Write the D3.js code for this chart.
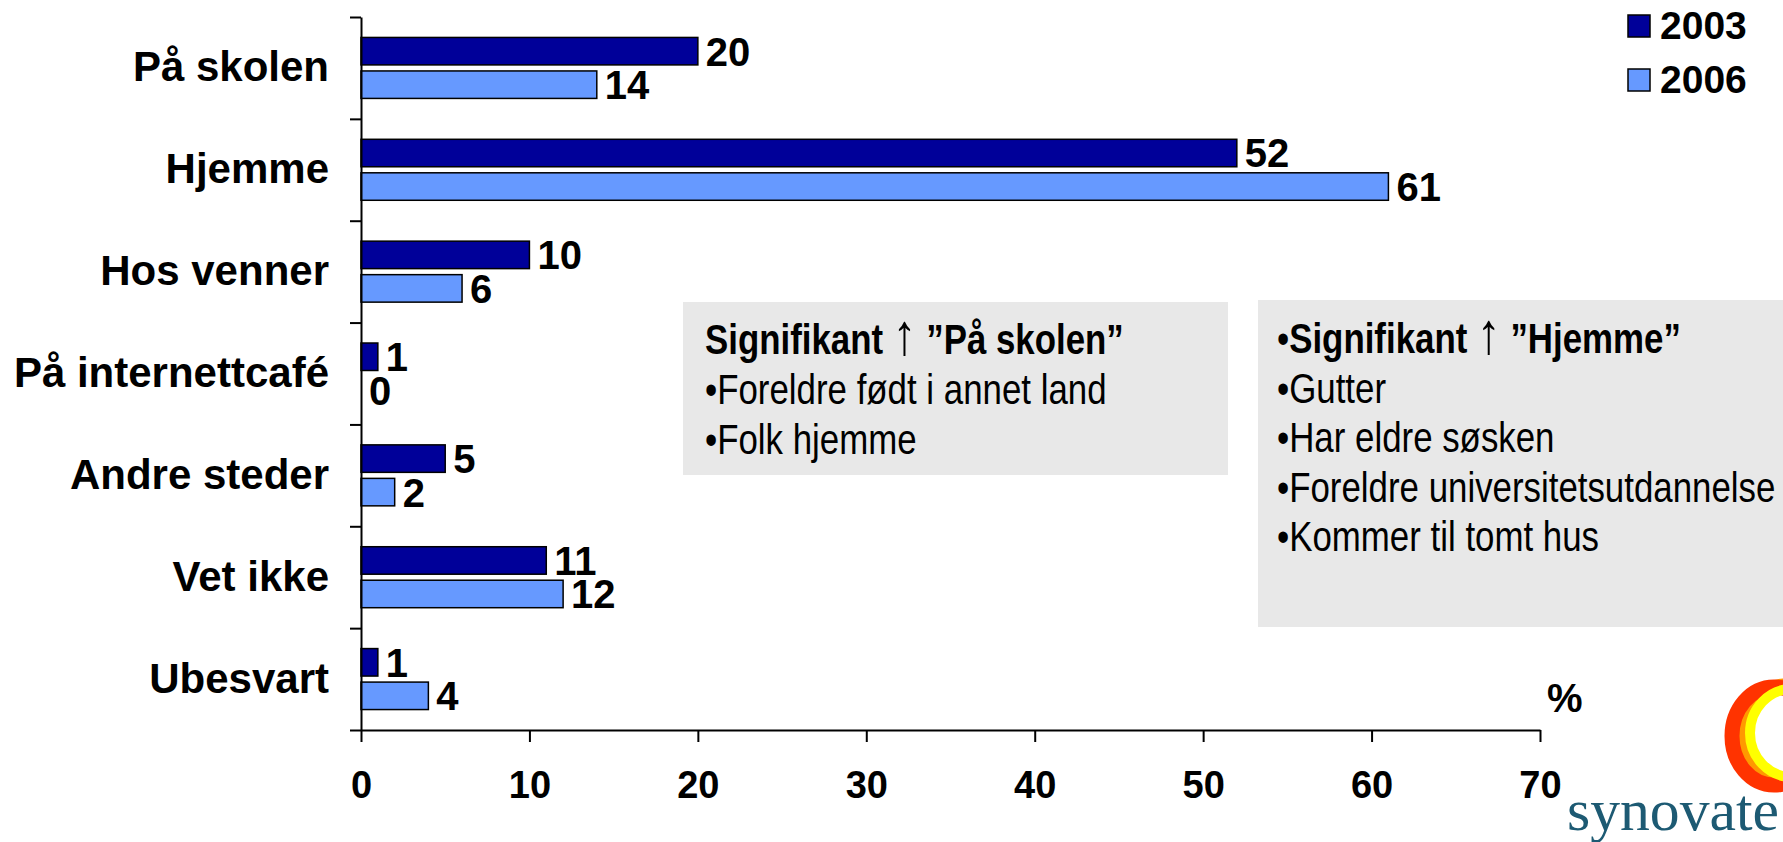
<!DOCTYPE html>
<meta charset="utf-8">

<!-- Load d3.js -->
<script src="https://cdn.jsdelivr.net/npm/d3@7"></script>

<div id="chart"></div>
<style>
  body {
    margin: 0;
    background-color: #ffffff;
    font-family: 'Liberation Sans', Arial, sans-serif;
  }
  svg { display: block; }
</style>
<script>

// data
var categories = ["På skolen", "Hjemme", "Hos venner", "På internettcafé", "Andre steder", "Vet ikke", "Ubesvart"];
var years = ["2003", "2006"];
var values2003 = [20, 52, 10, 1, 5, 11, 1];
var values2006 = [14, 61, 6, 0, 2, 12, 4];
var xTicks = [0, 10, 20, 30, 40, 50, 60, 70];

var boxSkolen = ["Foreldre født i annet land", "Folk hjemme"];
var boxHjemme = ["Gutter", "Har eldre søsken", "Foreldre universitetsutdannelse", "Kommer til tomt hus"];

var colors = {"2003": "#000099", "2006": "#6699FF"};

var width = 1783, height = 842;

var svg = d3.select("#chart")
  .append("svg")
  .attr("width", width)
  .attr("height", height);

// scales
var x = d3.scaleLinear().domain([0, 70]).range([361, 1540]);
var yBand = d3.scaleBand().domain(categories).range([17, 730]).padding(0);
var yInner = d3.scaleBand().domain(years).range([0, yBand.bandwidth()])
  .paddingInner(0.18).paddingOuter(0.61);
var yTick = d3.scaleLinear().domain([0, categories.length]).range([17, 730]);

var rows = categories.map(function(c, i) {
  return {cat: c, vals: [{year: "2003", v: values2003[i]}, {year: "2006", v: values2006[i]}]};
});

// grey annotation boxes
var ann = svg.append("g");
ann.append("rect").attr("x", 683).attr("y", 302).attr("width", 545).attr("height", 173).attr("fill", "#e8e8e8");
ann.append("rect").attr("x", 1258).attr("y", 300).attr("width", 525).attr("height", 327).attr("fill", "#e8e8e8");

// bars
var groups = svg.selectAll(".cat")
  .data(rows)
  .enter().append("g")
  .attr("class", "cat")
  .attr("transform", function(d) { return "translate(0," + yBand(d.cat) + ")"; });

groups.selectAll("rect")
  .data(function(d) { return d.vals; })
  .enter().append("rect")
  .attr("x", x(0))
  .attr("y", function(d) { return yInner(d.year); })
  .attr("width", function(d) { return x(d.v) - x(0); })
  .attr("height", yInner.bandwidth())
  .attr("fill", function(d) { return colors[d.year]; })
  .attr("stroke", "#000")
  .attr("stroke-width", function(d) { return d.v > 0 ? 1.5 : 0; });

groups.selectAll("text")
  .data(function(d) { return d.vals; })
  .enter().append("text")
  .attr("x", function(d) { return x(d.v) + 8; })
  .attr("y", function(d) { return yInner(d.year) + yInner.bandwidth() / 2; })
  .attr("dy", "0.36em")
  .style("font-size", "40px")
  .style("font-weight", "bold")
  .text(function(d) { return d.v; });

// x axis
var xAxis = svg.append("g")
  .attr("transform", "translate(0,730)")
  .call(d3.axisBottom(x).tickValues(xTicks).tickSize(12).tickSizeOuter(0).tickPadding(29));
xAxis.selectAll("text").style("font-size", "38px").style("font-weight", "bold").attr("fill", "#000")
  .style("font-family", "'Liberation Sans', Arial, sans-serif");

// y axis ticks (at band boundaries)
var yAxis = svg.append("g")
  .attr("transform", "translate(361,0)")
  .call(d3.axisLeft(yTick).ticks(7).tickSize(11).tickSizeOuter(0).tickFormat(""));

// category labels
var yLabels = svg.append("g")
  .attr("transform", "translate(361,0)")
  .call(d3.axisLeft(yBand).tickSize(0).tickPadding(32));
yLabels.select(".domain").remove();
yLabels.selectAll("text").style("font-size", "42px").style("font-weight", "bold").attr("fill", "#000")
  .style("font-family", "'Liberation Sans', Arial, sans-serif");

svg.selectAll(".domain, .tick line").attr("stroke", "#000").attr("stroke-width", 2);

// % sign
svg.append("text").attr("x", 1547).attr("y", 712)
  .style("font-size", "40px").style("font-weight", "bold").text("%");

// legend
var legend = svg.selectAll(".leg")
  .data(years)
  .enter().append("g")
  .attr("transform", function(d, i) { return "translate(1628," + (15 + i * 54) + ")"; });
legend.append("rect").attr("width", 22).attr("height", 22)
  .attr("fill", function(d) { return colors[d]; })
  .attr("stroke", "#000").attr("stroke-width", 1.5);
legend.append("text").attr("x", 32).attr("y", 24)
  .style("font-size", "39px").style("font-weight", "bold").text(function(d) { return d; });

// annotation texts, condensed font
var narrowFam = "'Liberation Sans Narrow', 'Arial Narrow'";
function testW(fam) {
  var t = svg.append("text").style("font-family", fam).style("font-size", "40px").text("Foreldre universitetsutdannelse");
  var w = t.node().getComputedTextLength();
  t.remove();
  return w;
}
var hasNarrow = testW(narrowFam + ", monospace") < 0.9 * testW("'Liberation Sans', monospace") &&
  testW(narrowFam + ", serif") < 0.9 * testW("'Liberation Sans', serif");
var sx = hasNarrow ? 1 : 0.82;

var annText = svg.append("g")
  .attr("transform", "scale(" + sx + ",1)")
  .style("font-family", hasNarrow ? narrowFam + ", sans-serif" : "'Liberation Sans', sans-serif")
  .style("font-size", "42.5px");

function title(sel, label) {
  sel.append("tspan").style("font-weight", "bold").text("Signifikant ");
  sel.append("tspan").style("font-size", "58px").text("\u2191");
  sel.append("tspan").style("font-weight", "bold").text(" \u201D" + label + "\u201D");
}

var t1 = annText.append("text").attr("x", 705 / sx).attr("y", 354);
title(t1, "På skolen");
annText.selectAll(".b1").data(boxSkolen).enter().append("text")
  .attr("x", 705 / sx)
  .attr("y", function(d, i) { return 404 + i * 50; })
  .text(function(d) { return "\u2022" + d; });

var t2 = annText.append("text").attr("x", 1277 / sx).attr("y", 353);
t2.append("tspan").text("\u2022");
title(t2, "Hjemme");
annText.selectAll(".b2").data(boxHjemme).enter().append("text")
  .attr("x", 1277 / sx)
  .attr("y", function(d, i) { return 403 + i * 49.5; })
  .text(function(d) { return "\u2022" + d; });

// synovate logo
var logo = svg.append("g");
logo.append("ellipse").attr("cx", 1785).attr("cy", 733).attr("rx", 41).attr("ry", 48)
  .attr("fill", "none").attr("stroke", "#ff9900").attr("stroke-width", 13);
logo.append("ellipse").attr("cx", 1774).attr("cy", 736).attr("rx", 42).attr("ry", 49)
  .attr("fill", "none").attr("stroke", "#ff3300").attr("stroke-width", 15);
logo.append("ellipse").attr("cx", 1792).attr("cy", 733).attr("rx", 42).attr("ry", 44)
  .attr("fill", "none").attr("stroke", "#ffff00").attr("stroke-width", 10);
logo.append("text").attr("x", 1567).attr("y", 830)
  .attr("textLength", 212).attr("lengthAdjust", "spacingAndGlyphs")
  .style("font-family", "'Liberation Serif', 'Times New Roman', serif")
  .style("font-size", "60px").attr("fill", "#1d5a73").text("synovate");

</script>
